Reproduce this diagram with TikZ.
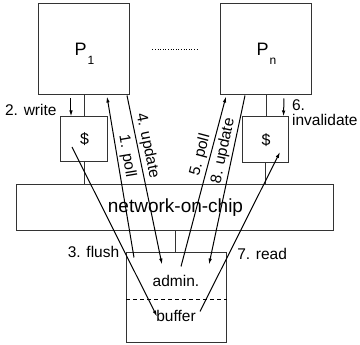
\documentclass[tikz,border=0pt]{standalone}
\usepackage{fontspec}
\setmainfont{Liberation Sans}
\usetikzlibrary{arrows.meta,calc}
\newcommand\procsub[1]{\kern1pt\raisebox{-9pt}[0pt][0pt]{\fontsize{12}{12}\selectfont #1}}
\begin{document}
\begin{tikzpicture}[x=1pt,y=-1pt,
  box/.style={draw=black!80,line width=1pt,inner sep=0pt},
  lbl/.style={inner sep=2pt,font=\fontsize{15.5}{15}\selectfont},
  arr/.style={line width=1pt,-{Latex[length=6pt,width=3.5pt]}}]
\useasboundingbox (0,0) rectangle (360,345);
% processors and their caches
\node[box,minimum width=91pt,minimum height=91pt,font=\fontsize{18}{20}\selectfont] (P1) at (84.5,49.5) {P\procsub{1}};
\node[box,minimum width=91pt,minimum height=91pt,font=\fontsize{18}{20}\selectfont] (Pn) at (266.5,49.5) {P\procsub{n}};
\draw[dotted,line width=0.6pt] ([xshift=22pt]P1.east) -- ([xshift=-22pt]Pn.west);
\node[box,minimum width=47pt,minimum height=45pt,font=\fontsize{16}{18}\selectfont] (cache1) at (84.5,139.5) {\$};
\node[box,minimum width=46pt,minimum height=46pt,font=\fontsize{16}{18}\selectfont] (cachen) at (266,140) {\$};
\node[box,minimum width=317pt,minimum height=46pt,font=\fontsize{19}{21}\selectfont] (noc) at (175.5,208) {network-on-chip};
\node[box,minimum width=100pt,minimum height=90pt] (buf) at (177,298) {};
\node[lbl] (admin) at (176,281) {admin.};
\node[lbl] (bufr) at (176,316) {buffer};
\draw[dashed,dash pattern=on 4pt off 3pt,line width=0.8pt] ($(buf.north west)!0.52!(buf.south west)$) -- ($(buf.north east)!0.52!(buf.south east)$);
% wires
\draw[line width=1pt,black!80] (P1.south) -- (cache1.north) (cache1.south) -- (cache1.south |- noc.north);
\draw[line width=1pt,black!80] (Pn.south) -- (Pn.south |- cachen.north) (cachen.south) -- (cachen.south |- noc.north);
\draw[line width=1pt,black!80] (noc.south) -- (noc.south |- buf.north);
% protocol steps
\draw[arr] ([shift={(-13.5,3)}]P1.south) -- node[lbl,left=12pt,pos=0.65] {2. write} ([xshift=-13.5pt]cache1.north);
\draw[arr] ([shift={(-43,5)}]buf.north) -- node[lbl,sloped,above,pos=0.62] {1. poll} ([shift={(22.5,1)}]P1.south);
\draw[arr] ([shift={(42.5,0)}]P1.south) -- node[lbl,sloped,above,pos=0.31] {4. update} ([shift={(-15,12)}]buf.north);
\draw[arr] ([shift={(-12.5,7.5)}]cache1.center) -- node[lbl,left=3pt,pos=0.62] {3. flush} ([shift={(-20,64)}]buf.north);
\draw[arr] ([shift={(4,14)}]buf.north) -- node[lbl,sloped,above,pos=0.64] {5. poll} ([shift={(-40.5,1)}]Pn.south);
\draw[arr] ([shift={(-21.5,0)}]Pn.south) -- node[lbl,sloped,above,pos=0.34] {8. update} ([shift={(32,12)}]buf.north);
\draw[arr] ([shift={(17.5,3)}]Pn.south) -- node[lbl,right=6pt,pos=0.8,align=left] {6.\\invalidate} ([xshift=17.5pt]cachen.north);
\draw[arr] ([shift={(23,59)}]buf.north) -- node[lbl,right=6pt,pos=0.36] {7. read} ([shift={(14,12)}]cachen.center);
\end{tikzpicture}
\end{document}
